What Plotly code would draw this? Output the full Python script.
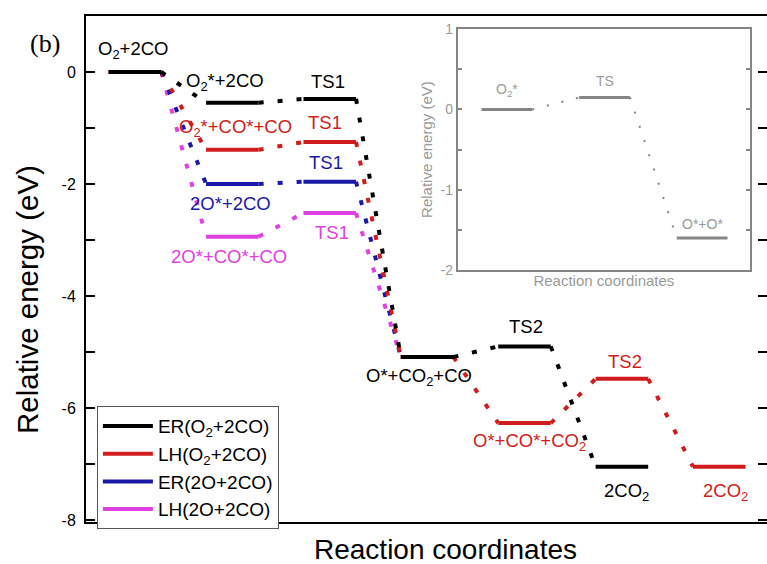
import plotly.graph_objects as go

# ---- energy levels (eV) at successive reaction-coordinate positions ----
ER_O2 = [0.0, -0.55, -0.48, -5.09, -4.90, -7.05]          # ER(O2+2CO)
LH_O2 = [0.0, -1.39, -1.25, -5.09, -6.27, -5.48, -7.05]   # LH(O2+2CO)
ER_2O = [0.0, -2.00, -1.96, -5.09]                        # ER(2O+2CO)
LH_2O = [0.0, -2.94, -2.52, -5.09]                        # LH(2O+2CO)

series_names = ["ER(O<sub>2</sub>+2CO)", "LH(O<sub>2</sub>+2CO)",
                "ER(2O+2CO)", "LH(2O+2CO)"]
series_values = [ER_O2, LH_O2, ER_2O, LH_2O]
series_colors = ["#000000", "#d01c1c", "#1a1aa6", "#e040e0"]

# state labels: (text, series index, level index, x offset, pixel shift)
state_labels = [
    ("O<sub>2</sub>+2CO", 0, 0, -0.02, 22),
    ("O<sub>2</sub>*+2CO", 0, 1, -0.08, 21),
    ("TS1", 0, 2, -0.02, 17),
    ("O<sub>2</sub>*+CO*+CO", 1, 1, 0.03, 22),
    ("TS1", 1, 2, -0.05, 20),
    ("TS1", 2, 2, -0.04, 19),
    ("2O*+2CO", 2, 1, -0.02, -20),
    ("TS1", 3, 2, 0.02, -19),
    ("2O*+CO*+CO", 3, 1, -0.03, -20),
    ("O*+CO<sub>2</sub>+CO", 0, 3, -0.08, -20),
    ("TS2", 0, 4, 0.02, 20),
    ("TS2", 1, 5, 0.03, 17),
    ("O*+CO*+CO<sub>2</sub>", 1, 4, 0.05, -19),
    ("2CO<sub>2</sub>", 0, 5, 0.05, -25),
    ("2CO<sub>2</sub>", 1, 6, 0.06, -25),
]

# ---- inset: O2 dissociation ----
INSET_E = [0.0, 0.15, -1.60]
inset_labels = [("O<sub>2</sub>*", 0, 19), ("TS", 1, 16), ("O*+O*", 2, 14)]

HALF = 0.27        # half width of a level bar (x units)
INSET_HALF = 0.26
GRAY = "#858585"
FONT = "Liberation Sans, Arial, sans-serif"

# plot area in pixels: left 86, right 767, top 16, bottom 522
PX_L, PX_W, PX_B, PX_H = 86, 681, 522, 506


def level_xy(values, half):
    xs, ys = [], []
    for i, e in enumerate(values):
        xs += [i - half, i + half, None]
        ys += [e, e, None]
    return xs, ys


def link_xy(values, half):
    xs, ys = [], []
    for i in range(len(values) - 1):
        xs += [i + half, i + 1 - half, None]
        ys += [values[i], values[i + 1], None]
    return xs, ys


fig = go.Figure()

# draw in reverse so the ER(O2+2CO) path sits on top
for k in reversed(range(len(series_values))):
    vals, col = series_values[k], series_colors[k]
    lx, ly = link_xy(vals, HALF)
    fig.add_trace(go.Scatter(x=lx, y=ly, mode="lines", showlegend=False,
                             line=dict(color=col, width=4, dash="5px,14px"),
                             hoverinfo="skip"))
    sx, sy = level_xy(vals, HALF)
    fig.add_trace(go.Scatter(x=sx, y=sy, mode="lines", name=series_names[k],
                             legendrank=k + 1,
                             line=dict(color=col, width=4)))

# inset traces
ix, iy = link_xy(INSET_E, INSET_HALF)
fig.add_trace(go.Scatter(x=ix, y=iy, mode="lines", showlegend=False,
                         xaxis="x2", yaxis="y2", hoverinfo="skip",
                         line=dict(color=GRAY, width=2, dash="2px,13px")))
ix, iy = level_xy(INSET_E, INSET_HALF)
fig.add_trace(go.Scatter(x=ix, y=iy, mode="lines", showlegend=False,
                         xaxis="x2", yaxis="y2",
                         line=dict(color=GRAY, width=3)))

annotations = []
for text, s, i, dx, shift in state_labels:
    annotations.append(dict(
        x=i + dx, y=series_values[s][i], xref="x", yref="y", text=text,
        showarrow=False, yshift=shift,
        font=dict(family=FONT, size=18.5, color=series_colors[s])))
for text, i, shift in inset_labels:
    annotations.append(dict(
        x=i, y=INSET_E[i], xref="x2", yref="y2", text=text,
        showarrow=False, yshift=shift,
        font=dict(family=FONT, size=14, color="#9a9a9a")))

# panel tag and main axis titles, placed in paper units
annotations += [
    dict(x=(28 - PX_L) / PX_W, y=(PX_B - 27) / PX_H, xref="paper",
         yref="paper", text="(b)", showarrow=False,
         font=dict(family="Liberation Serif, Times New Roman, serif",
                   size=26, color="black")),
    dict(x=(445 - PX_L) / PX_W, y=(PX_B - 549) / PX_H, xref="paper",
         yref="paper", text="Reaction coordinates", showarrow=False,
         xanchor="center", yanchor="middle",
         font=dict(family=FONT, size=28, color="black")),
    dict(x=(27 - PX_L) / PX_W, y=(PX_B - 300) / PX_H, xref="paper",
         yref="paper", text="Relative energy (eV)", showarrow=False,
         textangle=-90, xanchor="center", yanchor="middle",
         font=dict(family=FONT, size=29.5, color="black")),
]

ytick_vals = [0, -2, -4, -6, -8]
ytick_text = ["0", "-2", "-4", "-6", "-8"]
inset_tick_vals = [1, 0, -1, -2]
inset_tick_text = ["1", "0", "-1", "-2"]

fig.update_layout(
    width=767, height=564,
    margin=dict(l=86, r=0, t=16, b=42),
    paper_bgcolor="white", plot_bgcolor="white",
    font=dict(family=FONT, color="black"),
    showlegend=True,
    legend=dict(x=0.016, y=0.229, xanchor="left", yanchor="top",
                bgcolor="white", bordercolor="#555555", borderwidth=1,
                font=dict(family=FONT, size=19, color="black"),
                itemwidth=50, tracegroupgap=0),
    xaxis=dict(range=[-0.503, 6.49], showgrid=False, zeroline=False,
               automargin=False,
               showline=True, linecolor="black", linewidth=2, mirror=True,
               ticks="", showticklabels=False),
    yaxis=dict(range=[-8.036, 1.0], showgrid=False, zeroline=False,
               automargin=False,
               showline=True, linecolor="black", linewidth=2, mirror="ticks",
               ticks="inside", ticklen=9, tickwidth=2, tickcolor="black",
               tickvals=ytick_vals, ticktext=ytick_text,
               tickfont=dict(family=FONT, size=16), ticklabelstandoff=5,
               minor=dict(dtick=1, tick0=0, ticks="inside", ticklen=9,
                          tickwidth=2, tickcolor="black")),
    xaxis2=dict(domain=[0.546, 0.975], anchor="y2", range=[-0.503, 2.49],
                showgrid=False, zeroline=False, showline=True,
                linecolor=GRAY, linewidth=2, mirror=True, ticks="",
                showticklabels=False,
                title=dict(text="Reaction coordinates",
                           font=dict(family=FONT, size=15, color="#9a9a9a"),
                           standoff=4)),
    yaxis2=dict(domain=[0.498, 0.974], anchor="x2", range=[-2, 1],
                showgrid=False, zeroline=False, showline=True,
                linecolor=GRAY, linewidth=2, mirror="ticks",
                ticks="inside", ticklen=4, tickwidth=1.5, tickcolor=GRAY,
                tickvals=inset_tick_vals, ticktext=inset_tick_text,
                tickfont=dict(family=FONT, size=14, color="#9a9a9a"),
                minor=dict(dtick=0.5, tick0=0, ticks="inside", ticklen=4,
                           tickwidth=1.5, tickcolor=GRAY),
                title=dict(text="Relative energy (eV)",
                           font=dict(family=FONT, size=15, color="#9a9a9a"),
                           standoff=4)),
    annotations=annotations,
)

fig.write_html("out.html")
